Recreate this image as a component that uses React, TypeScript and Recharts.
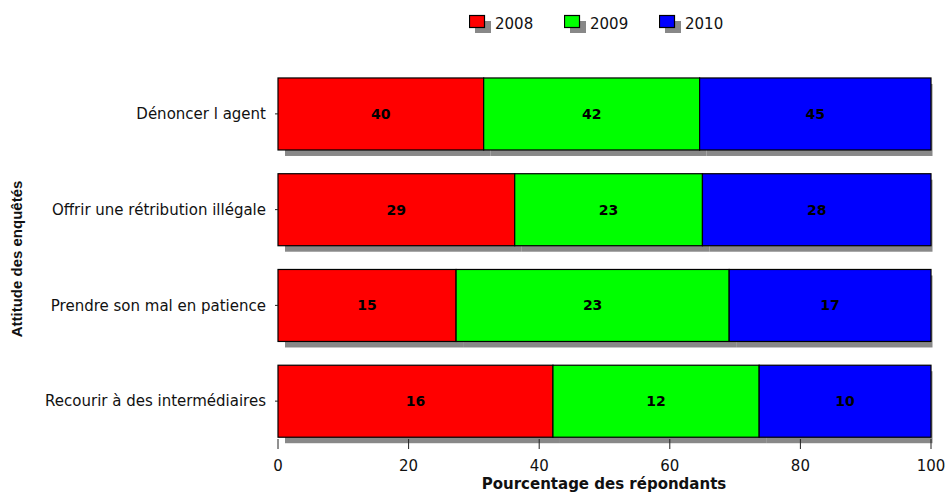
import React from "react";
import { BarChart, Bar, XAxis, YAxis, LabelList, Label } from "recharts";

const CATEGORIES = [
  "Dénoncer l agent",
  "Offrir une rétribution illégale",
  "Prendre son mal en patience",
  "Recourir à des intermédiaires",
];
const V2008 = [40, 29, 15, 16];
const V2009 = [42, 23, 23, 12];
const V2010 = [45, 28, 17, 10];
const X_TICKS = [0, 0.2, 0.4, 0.6, 0.8, 1];

const SERIES = [
  { key: "2008", color: "#ff0000" },
  { key: "2009", color: "#00ff00" },
  { key: "2010", color: "#0000ff" },
];

const data = CATEGORIES.map((name, i) => ({
  name,
  "2008": V2008[i],
  "2009": V2009[i],
  "2010": V2010[i],
}));

const W = 946;
const H = 495;
const PLOT_RIGHT = 931;
const FONT = "'DejaVu Sans', sans-serif";
const SHADOW = "#888888";

const ShadowBar = (props: any) => {
  const { x, y, width, height, fill } = props;
  if (!width || !height) return null;
  const sx = x + 7;
  const sRight = Math.min(x + width + 7, PLOT_RIGHT + 1.5);
  return (
    <g>
      {sRight > sx && (
        <rect x={sx} y={y + 6} width={sRight - sx} height={height} fill={SHADOW} />
      )}
      <rect x={x} y={y} width={width} height={height} fill={fill} stroke="#000" strokeWidth={1.2} />
    </g>
  );
};

const XTick = (props: any) => {
  const { x, y, payload } = props;
  return (
    <g>
      <line x1={x} y1={y - 10} x2={x} y2={y} stroke="#222" strokeWidth={1} />
      <text x={x} y={y + 22} textAnchor="middle" fontFamily={FONT} fontSize={15} fill="#111">
        {Math.round(payload.value * 100)}
      </text>
    </g>
  );
};

const LegendBox = () => (
  <div
    style={{
      position: "absolute",
      top: 14,
      left: 469,
      display: "flex",
      fontFamily: FONT,
      fontSize: 15,
      color: "#111",
    }}
  >
    {SERIES.map((s) => (
      <div key={s.key} style={{ display: "flex", alignItems: "center", width: 95 }}>
        <svg width={24} height={20} style={{ display: "block" }}>
          <rect x={6} y={7} width={16} height={12} fill={SHADOW} />
          <rect x={0.5} y={1.5} width={15} height={12} fill={s.color} stroke="#000" strokeWidth={1.2} />
        </svg>
        <span style={{ marginLeft: 2 }}>{s.key}</span>
      </div>
    ))}
  </div>
);

export default function App() {
  return (
    <div style={{ position: "absolute", left: 0, top: 0, width: W, height: H, background: "#fff" }}>
      <BarChart
        width={W}
        height={H}
        data={data}
        layout="vertical"
        stackOffset="expand"
        barCategoryGap="12.5%"
        margin={{ top: 66, right: W - PLOT_RIGHT, bottom: 0, left: 18 }}
      >
        <XAxis
          type="number"
          domain={[0, 1]}
          ticks={X_TICKS}
          axisLine={false}
          tickLine={false}
          tickSize={0}
          tickMargin={0}
          height={46}
          tick={<XTick />}
          interval={0}
        >
          <Label
            content={() => (
              <text
                x={604}
                y={489}
                textAnchor="middle"
                fontFamily={FONT}
                fontWeight="bold"
                fontSize={15}
                fill="#111"
              >
                Pourcentage des répondants
              </text>
            )}
          />
        </XAxis>
        <YAxis
          type="category"
          dataKey="name"
          width={260}
          axisLine={false}
          tickSize={3}
          tickMargin={9}
          tickLine={{ stroke: "#222" }}
          tick={{ fontFamily: FONT, fontSize: 15, fill: "#111" }}
        >
          <Label
            content={() => (
              <text
                x={16}
                y={259}
                transform="rotate(-90, 16, 259)"
                textAnchor="middle"
                dominantBaseline="central"
                fontFamily="'Liberation Sans', Arial, sans-serif"
                fontWeight="bold"
                fontSize={15}
                fill="#111"
              >
                Attitude des enquêtés
              </text>
            )}
          />
        </YAxis>
        {SERIES.map((s) => (
          <Bar
            key={s.key}
            dataKey={s.key}
            stackId="a"
            fill={s.color}
            shape={<ShadowBar />}
            isAnimationActive={false}
          >
            <LabelList
              dataKey={s.key}
              position="center"
              fontFamily={FONT}
              fontWeight="bold"
              fontSize={14}
              fill="#000"
            />
          </Bar>
        ))}
      </BarChart>
      <LegendBox />
    </div>
  );
}
